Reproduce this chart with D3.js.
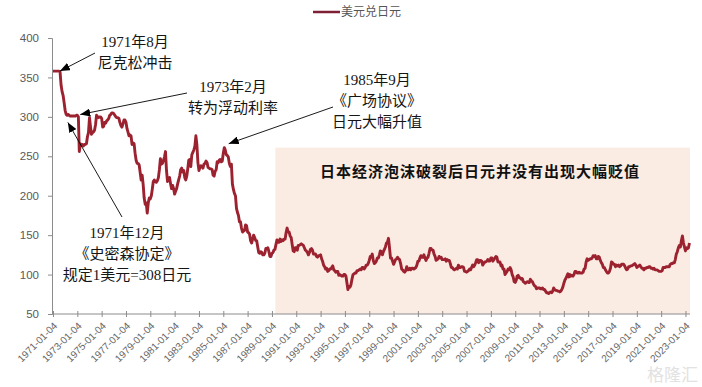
<!DOCTYPE html>
<html>
<head>
<meta charset="utf-8">
<script src="https://cdn.jsdelivr.net/npm/d3@7"></script>
<style>
  body { margin: 0; background: #fff; }
  svg { display: block; font-family: "Liberation Sans", Arial, sans-serif; }
  .note { font-family: "Liberation Serif", "Noto Sans CJK SC", serif; font-size: 15px; fill: #151515; }
</style>
</head>
<body>
<svg width="702" height="387"></svg>
<script>
"use strict";

var svg = d3.select("svg"),
    width = +svg.attr("width"),
    height = +svg.attr("height");

// USD/JPY, one row per year from 1971, one value per month
var startYear = 1971;
var usdJpy = [
  [358,358,358,358,358,358,358,357,340,332,327,318], // 1971
  [308,303,302,303,302,301,301,301,301,301,301,302],
  [302,300,256,266,264,265,263,265,265,266,275,280],
  [299,287,278,280,281,283,290,302,300,299,300,300],
  [298,287,288,293,292,295,296,298,302,303,305,305], // 1975
  [304,302,300,299,299,298,293,289,287,291,296,296],
  [293,285,281,276,277,276,265,267,266,254,245,241],
  [241,239,230,220,226,214,197,189,191,178,191,197],
  [196,200,208,218,220,218,217,219,223,233,247,240],
  [241,245,249,256,232,218,221,223,215,209,213,209], // 1980
  [202,206,209,215,220,225,233,235,230,232,223,220],
  [225,235,245,246,237,252,255,258,263,276,264,242],
  [232,236,238,237,235,240,241,244,242,236,235,234],
  [234,233,226,225,231,233,243,242,245,246,243,244],
  [254,261,258,252,251,249,241,237,240,215,208,203], // 1985
  [200,184,179,175,167,167,159,154,155,156,163,162],
  [154,153,151,143,140,145,150,147,143,143,135,128],
  [127,129,128,125,125,127,133,133,134,129,123,123],
  [127,128,131,132,138,144,141,141,145,142,144,143],
  [145,145,153,159,154,154,149,147,138,130,129,134], // 1990
  [134,131,137,137,138,139,138,137,134,131,130,128],
  [125,128,132,133,131,126,126,126,123,122,124,124],
  [125,120,117,112,110,107,108,104,105,107,107,109],
  [111,106,105,103,104,104,99,100,99,98,98,100],
  [100,98,90,81,85,84,87,94,100,101,102,102],         // 1995
  [105,105,106,107,106,109,109,107,109,112,112,114],
  [118,123,122,126,118,114,115,117,121,121,125,130],
  [129,125,129,132,135,140,141,146,134,121,121,117],
  [113,116,119,120,122,120,119,114,107,106,104,103],
  [105,110,106,106,108,106,108,108,107,108,109,112], // 2000
  [117,117,121,124,122,122,125,121,118,121,122,127],
  [133,133,131,131,126,123,118,119,120,123,121,122],
  [119,119,119,120,117,119,118,118,114,109,109,107],
  [106,107,108,107,112,109,109,110,110,109,104,104],
  [103,104,105,107,106,109,112,110,112,115,119,119], // 2005
  [115,118,118,117,112,114,116,116,117,119,117,117],
  [121,121,117,119,121,123,122,116,116,116,111,112],
  [107,107,100,102,104,107,106,109,106,100,97,91],
  [90,93,98,99,96,96,94,95,91,90,89,90],
  [91,90,90,94,92,91,88,86,85,82,83,83],             // 2010
  [83,82,82,83,81,81,79,77,77,76,77,78],
  [77,79,83,81,80,80,79,79,78,79,81,84],
  [89,93,95,98,101,97,100,98,99,98,100,104],
  [104,102,102,103,102,102,102,103,107,108,116,120],
  [118,119,120,120,121,124,123,124,120,120,123,122], // 2015
  [118,115,113,109,109,106,104,102,102,104,108,116],
  [115,113,113,110,112,111,112,110,111,113,113,113],
  [111,108,106,107,110,110,111,111,112,113,114,112],
  [109,110,111,112,110,108,108,106,108,108,109,109],
  [110,110,108,108,107,108,106,106,106,105,104,104], // 2020
  [104,105,109,109,109,110,110,110,110,113,114,114],
  [115,115,119,126,129,134,137,135,143,149,140,135],
  [130,134,133,134,140]                               // 2023
];

var tickDates = d3.range(1971, 2024, 2).map(function(y) { return y + "-01-04"; });
var yTicks = [50, 100, 150, 200, 250, 300, 350, 400];
var seriesName = "美元兑日元";

// annotations: text lines and the point the arrow touches (date, value)
var noteLines = [
  ["1971年8月", "尼克松冲击"],
  ["1973年2月", "转为浮动利率"],
  ["1985年9月", "《广场协议》", "日元大幅升值"],
  ["1971年12月", "《史密森协定》", "规定1美元=308日元"]
];
var noteTips = [["1971-08-01", 358], ["1973-04-01", 303], ["1985-06-15", 266], ["1972-03-25", 293]];

var shadeFrom = "1989-04-15", shadeTop = 261;
var shadeText = "日本经济泡沫破裂后日元并没有出现大幅贬值";

// layout of the annotations (pixels)
var noteAt = [[135, 42], [233, 87], [377, 80], [127, 233]];
var tailAt = [[95, 53], [187, 93], [333, 107], [122, 217]];

var parse = d3.timeParse("%Y-%m-%d");

var data = [];
usdJpy.forEach(function(row, i) {
  row.forEach(function(v, m) {
    data.push({ date: new Date(startYear + i, m, 4), value: v });
  });
});

var x = d3.scaleTime()
    .domain([parse("1971-01-04"), parse("2023-05-20")])
    .range([53, 690]);

var y = d3.scaleLinear()
    .domain([50, 400])
    .range([314, 38]);

var defs = svg.append("defs");
defs.append("marker")
    .attr("id", "arrow")
    .attr("viewBox", "0 0 10 8")
    .attr("refX", 10).attr("refY", 4)
    .attr("markerWidth", 10).attr("markerHeight", 8)
    .attr("markerUnits", "userSpaceOnUse")
    .attr("orient", "auto")
  .append("path")
    .attr("d", "M0,0L10,4L0,8z")
    .attr("fill", "#000");

// shaded period after the bubble
svg.append("rect")
    .attr("x", x(parse(shadeFrom)))
    .attr("y", y(shadeTop))
    .attr("width", x.range()[1] - x(parse(shadeFrom)))
    .attr("height", y(50) - y(shadeTop))
    .attr("fill", "#fbece3");

svg.append("text")
    .attr("x", 480).attr("y", 172)
    .attr("dy", "0.35em")
    .attr("text-anchor", "middle")
    .style("font-family", "\"Noto Sans CJK SC\", sans-serif")
    .style("font-size", "15px")
    .style("font-weight", "700")
    .style("letter-spacing", "1px")
    .style("fill", "#111")
    .text(shadeText);

// axes
var yAxis = svg.append("g")
    .attr("transform", "translate(52,0)")
    .call(d3.axisLeft(y).tickValues(yTicks).tickSize(4).tickPadding(9));

var xAxis = svg.append("g")
    .attr("transform", "translate(0,314)")
    .call(d3.axisBottom(x)
      .tickValues(tickDates.map(parse))
      .tickFormat(d3.timeFormat("%Y-%m-%d"))
      .tickSize(3));

[yAxis, xAxis].forEach(function(g) {
  g.select(".domain").attr("stroke", "#8c8c8c");
  g.selectAll(".tick line").attr("stroke", "#8c8c8c");
});
xAxis.selectAll(".tick line").attr("y1", -3);
xAxis.select(".domain").attr("d", "M52,0H690");

yAxis.selectAll("text")
    .style("font-size", "11.5px")
    .attr("fill", "#595959");

xAxis.selectAll("text")
    .style("font-size", "10px")
    .attr("fill", "#666")
    .attr("text-anchor", "end")
    .attr("y", 0).attr("dy", "0.35em")
    .attr("transform", "translate(2,10) rotate(-45)");

// series
var line = d3.line()
    .x(function(d) { return x(d.date); })
    .y(function(d) { return y(d.value); });

svg.append("path")
    .datum(data)
    .attr("fill", "none")
    .attr("stroke", "#9c2230")
    .attr("stroke-width", 2.9)
    .attr("stroke-linejoin", "round")
    .attr("d", line);

// annotations
noteLines.forEach(function(lines, i) {
  var tip = noteTips[i];
  svg.append("line")
      .attr("x1", tailAt[i][0]).attr("y1", tailAt[i][1])
      .attr("x2", x(parse(tip[0]))).attr("y2", y(tip[1]))
      .attr("stroke", "#000")
      .attr("stroke-width", 0.9)
      .attr("marker-end", "url(#arrow)");

  var t = svg.append("text")
      .attr("class", "note")
      .attr("text-anchor", "middle");
  lines.forEach(function(s, k) {
    t.append("tspan")
        .attr("x", noteAt[i][0])
        .attr("y", noteAt[i][1] + k * 21)
        .attr("dy", "0.35em")
        .text(s);
  });
});

// legend
var legend = svg.append("g").attr("transform", "translate(313,12)");
legend.append("line")
    .attr("x1", 0).attr("x2", 27)
    .attr("stroke", "#7d1f35")
    .attr("stroke-width", 2.5);
legend.append("text")
    .attr("x", 28).attr("dy", "0.35em")
    .style("font-family", "\"Noto Sans CJK SC\", sans-serif")
    .style("font-size", "12px")
    .attr("fill", "#555")
    .text(seriesName);

// watermark
svg.append("text")
    .attr("x", 698).attr("y", 381)
    .attr("text-anchor", "end")
    .style("font-family", "\"Noto Sans CJK SC\", sans-serif")
    .style("font-size", "17px")
    .attr("fill", "#e2e2e2")
    .text("格隆汇");
</script>
</body>
</html>
